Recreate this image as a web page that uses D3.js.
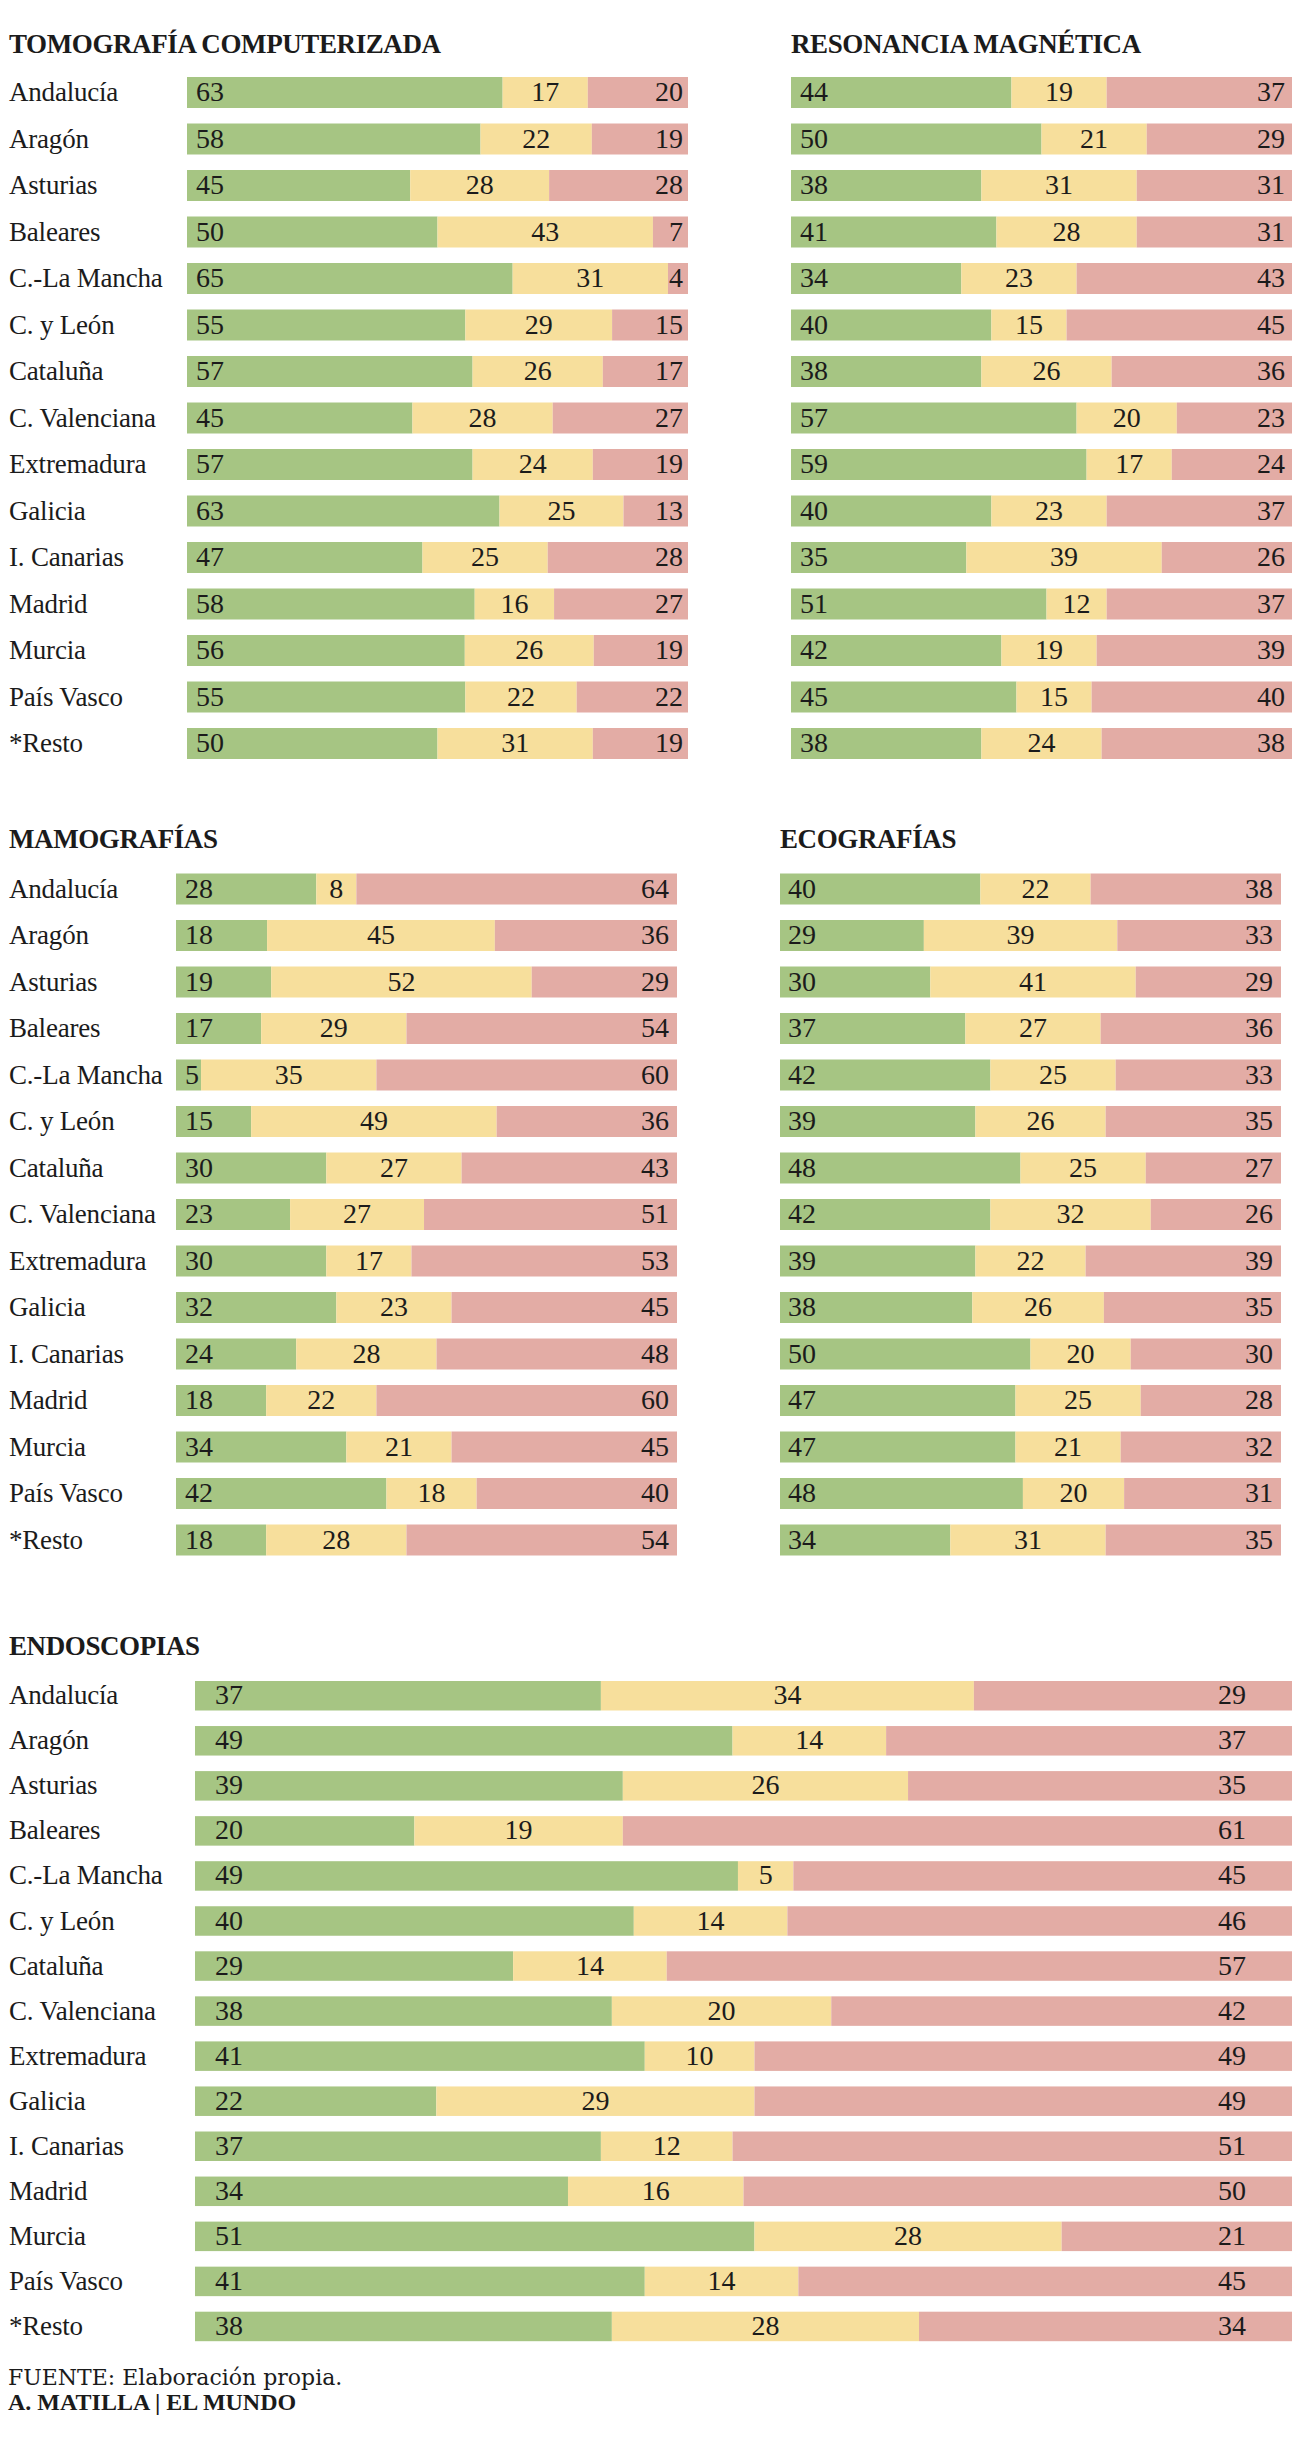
<!DOCTYPE html>
<html>
<head>
<meta charset="utf-8">
<script src="https://cdn.jsdelivr.net/npm/d3@7"></script>
<style>
  body { margin: 0; background: #fff; }
  text { fill: #1b1b1b; }
</style>
</head>
<body>
<script>
// Data
const regiones = ["Andalucía", "Aragón", "Asturias", "Baleares", "C.-La Mancha", "C. y León",
  "Cataluña", "C. Valenciana", "Extremadura", "Galicia", "I. Canarias", "Madrid",
  "Murcia", "País Vasco", "*Resto"]

const tramos = ["verde", "amarillo", "rojo"]

const tomografia = [[63, 17, 20], [58, 22, 19], [45, 28, 28], [50, 43, 7], [65, 31, 4],
  [55, 29, 15], [57, 26, 17], [45, 28, 27], [57, 24, 19], [63, 25, 13],
  [47, 25, 28], [58, 16, 27], [56, 26, 19], [55, 22, 22], [50, 31, 19]]

const resonancia = [[44, 19, 37], [50, 21, 29], [38, 31, 31], [41, 28, 31], [34, 23, 43],
  [40, 15, 45], [38, 26, 36], [57, 20, 23], [59, 17, 24], [40, 23, 37],
  [35, 39, 26], [51, 12, 37], [42, 19, 39], [45, 15, 40], [38, 24, 38]]

const mamografias = [[28, 8, 64], [18, 45, 36], [19, 52, 29], [17, 29, 54], [5, 35, 60],
  [15, 49, 36], [30, 27, 43], [23, 27, 51], [30, 17, 53], [32, 23, 45],
  [24, 28, 48], [18, 22, 60], [34, 21, 45], [42, 18, 40], [18, 28, 54]]

const ecografias = [[40, 22, 38], [29, 39, 33], [30, 41, 29], [37, 27, 36], [42, 25, 33],
  [39, 26, 35], [48, 25, 27], [42, 32, 26], [39, 22, 39], [38, 26, 35],
  [50, 20, 30], [47, 25, 28], [47, 21, 32], [48, 20, 31], [34, 31, 35]]

const endoscopias = [[37, 34, 29], [49, 14, 37], [39, 26, 35], [20, 19, 61], [49, 5, 45],
  [40, 14, 46], [29, 14, 57], [38, 20, 42], [41, 10, 49], [22, 29, 49],
  [37, 12, 51], [34, 16, 50], [51, 28, 21], [41, 14, 45], [38, 28, 34]]

// Dimensions
const dimensions = { width: 1292, height: 2456 }

const colores = { verde: "#a6c583", amarillo: "#f7df9c", rojo: "#e3aca5" }

const paneles = [
  { titulo: "TOMOGRAFÍA COMPUTERIZADA", datos: tomografia, x0: 187, x1: 688, top: 77, step: 46.5, bar: 31, tx: 9, ty: 53, etiquetas: true, padL: 9, padR: 5 },
  { titulo: "RESONANCIA MAGNÉTICA", datos: resonancia, x0: 791, x1: 1292, top: 77, step: 46.5, bar: 31, tx: 791, ty: 53, etiquetas: false, padL: 9, padR: 7 },
  { titulo: "MAMOGRAFÍAS", datos: mamografias, x0: 176, x1: 677, top: 873.5, step: 46.5, bar: 31, tx: 9, ty: 848, etiquetas: true, padL: 9, padR: 8 },
  { titulo: "ECOGRAFÍAS", datos: ecografias, x0: 780, x1: 1281, top: 873.5, step: 46.5, bar: 31, tx: 780, ty: 848, etiquetas: false, padL: 8, padR: 8 },
  { titulo: "ENDOSCOPIAS", datos: endoscopias, x0: 195, x1: 1292, top: 1681, step: 45.05, bar: 29.5, tx: 9, ty: 1655, etiquetas: true, padL: 20, padR: 46 },
]

// Draw Image
const svg = d3.select("body")
  .append("svg")
  .attr("width", dimensions.width)
  .attr("height", dimensions.height)
  .style("font-family", "'Liberation Serif', serif")

svg.append("rect")
  .attr("width", dimensions.width)
  .attr("height", dimensions.height)
  .attr("fill", "#fff")

const stack = d3.stack()
  .keys(tramos)
  .offset(d3.stackOffsetExpand)

paneles.forEach(p => {
  const filas = p.datos.map((v, i) => ({ region: regiones[i], verde: v[0], amarillo: v[1], rojo: v[2] }))
  const capas = stack(filas)

  // Scales
  const pad = 1 - p.bar / p.step
  const y = d3.scaleBand()
    .domain(regiones)
    .range([p.top, p.top + p.step * (regiones.length - pad)])
    .paddingInner(pad)
    .paddingOuter(0)

  const x = d3.scaleLinear()
    .domain([0, 1])
    .range([p.x0, p.x1])

  const g = svg.append("g")

  // Title
  g.append("text")
    .attr("x", p.tx)
    .attr("y", p.ty)
    .attr("font-size", 27)
    .attr("font-weight", "bold")
    .attr("letter-spacing", -0.4)
    .text(p.titulo)

  // Region labels
  if (p.etiquetas) {
    g.append("g")
      .selectAll("text")
      .data(regiones)
      .join("text")
      .attr("x", 9)
      .attr("y", d => y(d) + p.bar / 2 + 8.5)
      .attr("font-size", 27)
      .attr("letter-spacing", -0.2)
      .text(d => d)
  }

  // Rectangles
  g.append("g")
    .selectAll("g")
    .data(capas)
    .join("g")
    .attr("fill", d => colores[d.key])
    .selectAll("rect")
    .data(d => d)
    .join("rect")
    .attr("x", d => x(d[0]))
    .attr("y", d => y(d.data.region))
    .attr("width", d => x(d[1]) - x(d[0]))
    .attr("height", y.bandwidth())

  // Values
  capas.forEach(capa => {
    g.append("g")
      .selectAll("text")
      .data(capa)
      .join("text")
      .attr("font-size", 28)
      .attr("y", d => y(d.data.region) + p.bar / 2 + 8.5)
      .attr("x", d => {
        if (capa.key === "verde") return x(d[0]) + p.padL
        if (capa.key === "rojo") return x(d[1]) - p.padR
        return (x(d[0]) + x(d[1])) / 2
      })
      .attr("text-anchor", capa.key === "verde" ? "start" : capa.key === "rojo" ? "end" : "middle")
      .text(d => d.data[capa.key])
  })
})

// Footer
const pie = svg.append("g")
const fuente = pie.append("text")
  .attr("x", 8)
  .attr("y", 2385)
  .attr("font-family", "'DejaVu Serif', serif")
  .attr("font-size", 22)
fuente.append("tspan").text("FUENTE: ")
fuente.append("tspan").text("Elaboración propia.")

pie.append("text")
  .attr("x", 8)
  .attr("y", 2410)
  .attr("font-size", 24)
  .attr("font-weight", "bold")
  .text("A. MATILLA | EL MUNDO")
</script>
</body>
</html>
